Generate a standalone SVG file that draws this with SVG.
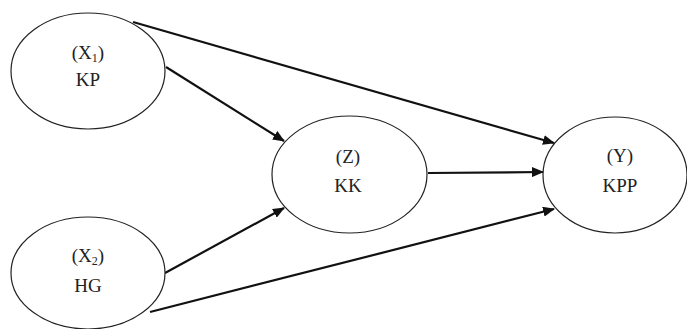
<svg xmlns="http://www.w3.org/2000/svg" width="687" height="329" viewBox="0 0 687 329">
<style>
.n{fill:#fff;stroke:#222;stroke-width:1.2}
.t{font-family:"Liberation Serif",serif;font-size:19px;fill:#222;text-anchor:middle}
.s{font-size:12px}
.c{stroke:#111;stroke-width:2.2;fill:none;marker-end:url(#ah)}
</style>
<defs>
<marker id="ah" markerWidth="12" markerHeight="10" refX="11" refY="5" orient="auto" markerUnits="userSpaceOnUse">
<path d="M0,0 L12,5 L0,10 Z" fill="#111"/>
</marker>
</defs>
<rect width="687" height="329" fill="#fff"/>
<g id="connectors">
<line class="c" x1="133" y1="22" x2="554" y2="143"/>
<line class="c" x1="166" y1="67" x2="284" y2="141"/>
<line class="c" x1="165" y1="273" x2="284" y2="208"/>
<line class="c" x1="150" y1="312" x2="554" y2="209"/>
<line class="c" x1="428" y1="173" x2="543" y2="172"/>
</g>
<g id="X1">
<ellipse class="n" cx="88" cy="71" rx="77" ry="58"/>
<text class="t" x="88" y="59">(X<tspan class="s" dy="3">1</tspan><tspan dy="-3">)</tspan></text>
<text class="t" x="88" y="86">KP</text>
</g>
<g id="X2">
<ellipse class="n" cx="88" cy="273" rx="77" ry="56"/>
<text class="t" x="88" y="262">(X<tspan class="s" dy="3">2</tspan><tspan dy="-3">)</tspan></text>
<text class="t" x="88" y="292">HG</text>
</g>
<g id="Z">
<ellipse class="n" cx="349.5" cy="174.5" rx="77.5" ry="58.5"/>
<text class="t" x="348" y="163">(Z)</text>
<text class="t" x="348" y="192">KK</text>
</g>
<g id="Y">
<ellipse class="n" cx="615" cy="175" rx="72" ry="58"/>
<text class="t" x="620" y="162">(Y)</text>
<text class="t" x="620" y="192">KPP</text>
</g>
</svg>
